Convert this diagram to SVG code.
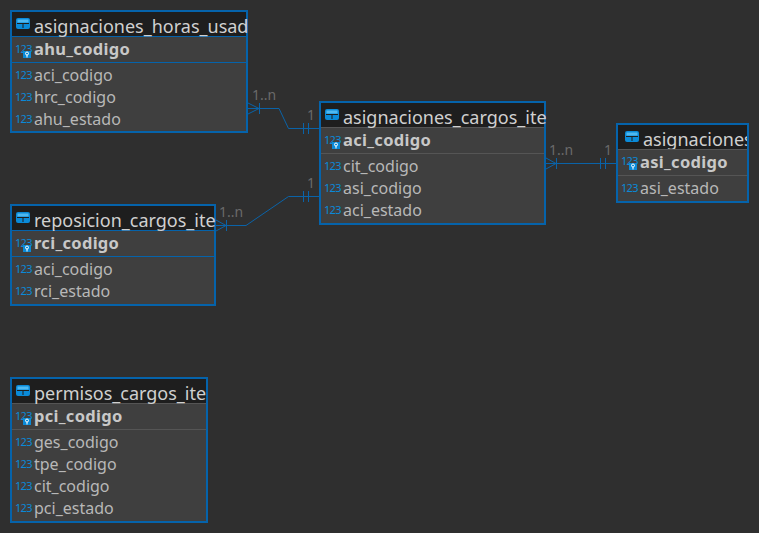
<svg xmlns="http://www.w3.org/2000/svg" width="759" height="533" viewBox="0 0 759 533">
<style>
text{font-family:"Noto Sans","Open Sans","DejaVu Sans",sans-serif}
.b{fill:#3f3f3f;stroke:#0563ab;stroke-width:2}
.h{fill:#1e1e1e}
.t{font-size:18px;fill:#d0d0d0}
.k{font-size:16.500px;font-weight:700;letter-spacing:.3px;fill:#c8c8c8}
.c{font-size:16px;fill:#b8b8b8}
.n{font-size:11px;letter-spacing:-.7px;fill:#0a8ad8}
.l{stroke:#0a63a8;stroke-width:1;fill:none}
.s{stroke:#0563ab;stroke-width:1}
.g{stroke:#555;stroke-width:1}
.m{font-size:14px;fill:#6a6a6a}
</style>
<defs>
<g id="tb"><rect x="0" y="0" width="14" height="11" rx="2" fill="#0a8ad8"/><rect x="1.500" y="1.500" width="11" height="3" fill="#4fb8f0"/><path d="M1 5.500H13M7 6V10" stroke="#1e1e1e" stroke-width="1"/></g>
<g id="pk"><text class="n" x="0" y="0">123</text><rect x="8" y="-2" width="8" height="7" fill="#0a8ad8"/><circle cx="12" cy="0.500" r="1.500" fill="none" stroke="#fff"/><path d="M12 2V4.500" stroke="#fff"/></g>
<clipPath id="c3"><rect x="618" y="125" width="129" height="24"/></clipPath>
</defs>
<rect width="759" height="533" fill="#2f2f2f"/>
<g id="connectors">
<path class="l" d="M247 108.500H279L288.500 128.500H320"/><path class="l" d="M248 103L259 108.500L248 114M259.500 103V114M303.500 123V134M308.500 123V134"/>
<path class="l" d="M215 225.500H246L288.500 196.500H320"/><path class="l" d="M216 220L226 225.500L216 231M226.500 220V231M303.500 191V202M308.500 191V202"/>
<path class="l" d="M545 163.500H617"/><path class="l" d="M546 158L556 163.500L546 169M556.500 158V169M600.500 158V169M605.500 158V169"/>
<text class="m" x="252" y="100">1..n</text><text class="m" x="307" y="120">1</text>
<text class="m" x="219" y="217">1..n</text><text class="m" x="307" y="188">1</text>
<text class="m" x="549" y="155">1..n</text><text class="m" x="604" y="155">1</text>
</g>
<g id="asignaciones_horas_usad">
<rect class="b" x="11" y="11" width="236" height="121"/><rect class="h" x="12" y="12" width="234" height="24"/>
<path class="s" d="M12 36.500H246M12 62.500H246"/>
<use href="#tb" x="16" y="18"/><text class="t" x="34" y="33">asignaciones_horas_usad</text>
<use href="#pk" x="15" y="53"/><text class="k" x="34" y="55">ahu_codigo</text>
<text class="n" x="15" y="79">123</text><text class="c" x="34" y="81">aci_codigo</text>
<text class="n" x="15" y="101">123</text><text class="c" x="34" y="103">hrc_codigo</text>
<text class="n" x="15" y="123">123</text><text class="c" x="34" y="125">ahu_estado</text>
</g>
<g id="asignaciones_cargos_ite">
<rect class="b" x="320" y="102" width="225" height="122"/><rect class="h" x="321" y="103" width="223" height="24"/>
<path class="g" d="M321 127.500H544M321 153.500H544"/>
<use href="#tb" x="325" y="109"/><text class="t" x="343" y="124">asignaciones_cargos_ite</text>
<use href="#pk" x="324" y="144"/><text class="k" x="343" y="146">aci_codigo</text>
<text class="n" x="324" y="170">123</text><text class="c" x="343" y="172">cit_codigo</text>
<text class="n" x="324" y="192">123</text><text class="c" x="343" y="194">asi_codigo</text>
<text class="n" x="324" y="214">123</text><text class="c" x="343" y="216">aci_estado</text>
</g>
<g id="asignaciones">
<rect class="b" x="617" y="124" width="131" height="78"/><rect class="h" x="618" y="125" width="129" height="24"/>
<path class="g" d="M618 149.500H747M618 175.500H747"/>
<use href="#tb" x="625" y="131"/><text class="t" x="643" y="146" clip-path="url(#c3)">asignaciones</text>
<use href="#pk" x="621" y="165"/><text class="k" x="640" y="168">asi_codigo</text>
<text class="n" x="621" y="192">123</text><text class="c" x="640" y="194">asi_estado</text>
</g>
<g id="reposicion_cargos_ite">
<rect class="b" x="11" y="205" width="204" height="100"/><rect class="h" x="12" y="206" width="202" height="24"/>
<path class="s" d="M12 230.500H214M12 256.500H214"/>
<use href="#tb" x="16" y="212"/><text class="t" x="34" y="227">reposicion_cargos_ite</text>
<use href="#pk" x="15" y="247"/><text class="k" x="34" y="249">rci_codigo</text>
<text class="n" x="15" y="273">123</text><text class="c" x="34" y="275">aci_codigo</text>
<text class="n" x="15" y="295">123</text><text class="c" x="34" y="297">rci_estado</text>
</g>
<g id="permisos_cargos_ite">
<rect class="b" x="11" y="378" width="196" height="144"/><rect class="h" x="12" y="379" width="194" height="24"/>
<path class="g" d="M12 403.500H206M12 429.500H206"/>
<use href="#tb" x="16" y="385"/><text class="t" x="34" y="400">permisos_cargos_ite</text>
<use href="#pk" x="15" y="420"/><text class="k" x="34" y="422">pci_codigo</text>
<text class="n" x="15" y="446">123</text><text class="c" x="34" y="448">ges_codigo</text>
<text class="n" x="15" y="468">123</text><text class="c" x="34" y="470">tpe_codigo</text>
<text class="n" x="15" y="490">123</text><text class="c" x="34" y="492">cit_codigo</text>
<text class="n" x="15" y="512">123</text><text class="c" x="34" y="514">pci_estado</text>
</g>
</svg>
